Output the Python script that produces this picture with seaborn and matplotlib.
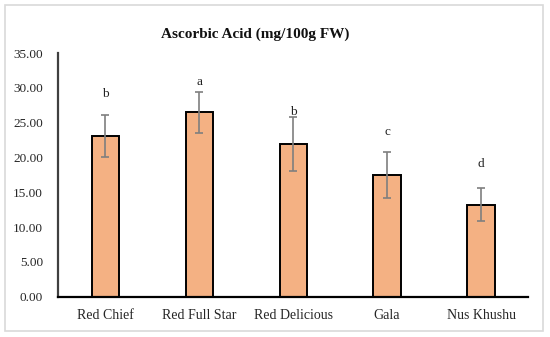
import numpy as np
import pandas as pd
import seaborn as sns
import matplotlib
matplotlib.use("Agg")
import matplotlib.pyplot as plt
from matplotlib.patches import Rectangle

sns.set_theme(style="white")
plt.rcParams['font.family'] = ['Liberation Serif', 'DejaVu Serif']

# data
cultivars = ["Red Chief", "Red Full Star", "Red Delicious", "Gala", "Nus Khushu"]
ascorbic = [23.1, 26.5, 21.9, 17.5, 13.2]
sd = [3.0, 2.95, 3.9, 3.35, 2.35]
letters = ["b", "a", "b", "c", "d"]
letter_y = [29.1, 30.9, 26.6, 23.6, 19.0]
yticks = [0, 5, 10, 15, 20, 25, 30, 35]

df = pd.DataFrame({"cultivar": cultivars, "value": ascorbic})

fig = plt.figure(figsize=(5.5, 3.37), dpi=100)
ax = fig.add_axes([0.106, 0.1196, 0.854, 0.723])

sns.barplot(data=df, x="cultivar", y="value", color="#F4B183", saturation=1,
            width=0.29, edgecolor="black", linewidth=1.4, errorbar=None, ax=ax)
pos = np.arange(len(cultivars))
ax.errorbar(pos, ascorbic, yerr=sd, fmt="none", ecolor="#7f7f7f",
            elinewidth=1.2, capsize=3, capthick=1.2)
for x, ly, lt in zip(pos, letter_y, letters):
    ax.text(x, ly, lt, ha="center", va="center", fontsize=9.5, color="#222222")

ax.set_ylim(0, 35)
ax.set_xlim(-0.5, len(cultivars) - 0.5)
ax.set_yticks(yticks)
ax.set_yticklabels([f"{v:.2f}" for v in yticks])
ax.set_xlabel("")
ax.set_ylabel("")
ax.tick_params(axis="y", length=0, pad=11, labelsize=9.5, colors="#262626")
ax.tick_params(axis="x", length=0, pad=9, labelsize=10, colors="#262626")
for s in ["top", "right"]:
    ax.spines[s].set_visible(False)
ax.spines["left"].set_color("#404040")
ax.spines["left"].set_linewidth(1.6)
ax.spines["bottom"].set_color("black")
ax.spines["bottom"].set_linewidth(1.6)

fig.text(0.4645, 0.898, "Ascorbic Acid (mg/100g FW)", ha="center", va="center",
         fontsize=11, fontweight="bold", color="#111111")

fig.patches.append(Rectangle((0.009, 0.018), 0.978, 0.967, transform=fig.transFigure,
                             fill=False, edgecolor="#d9d9d9", linewidth=1.2))

fig.savefig("out.png", dpi=100)
